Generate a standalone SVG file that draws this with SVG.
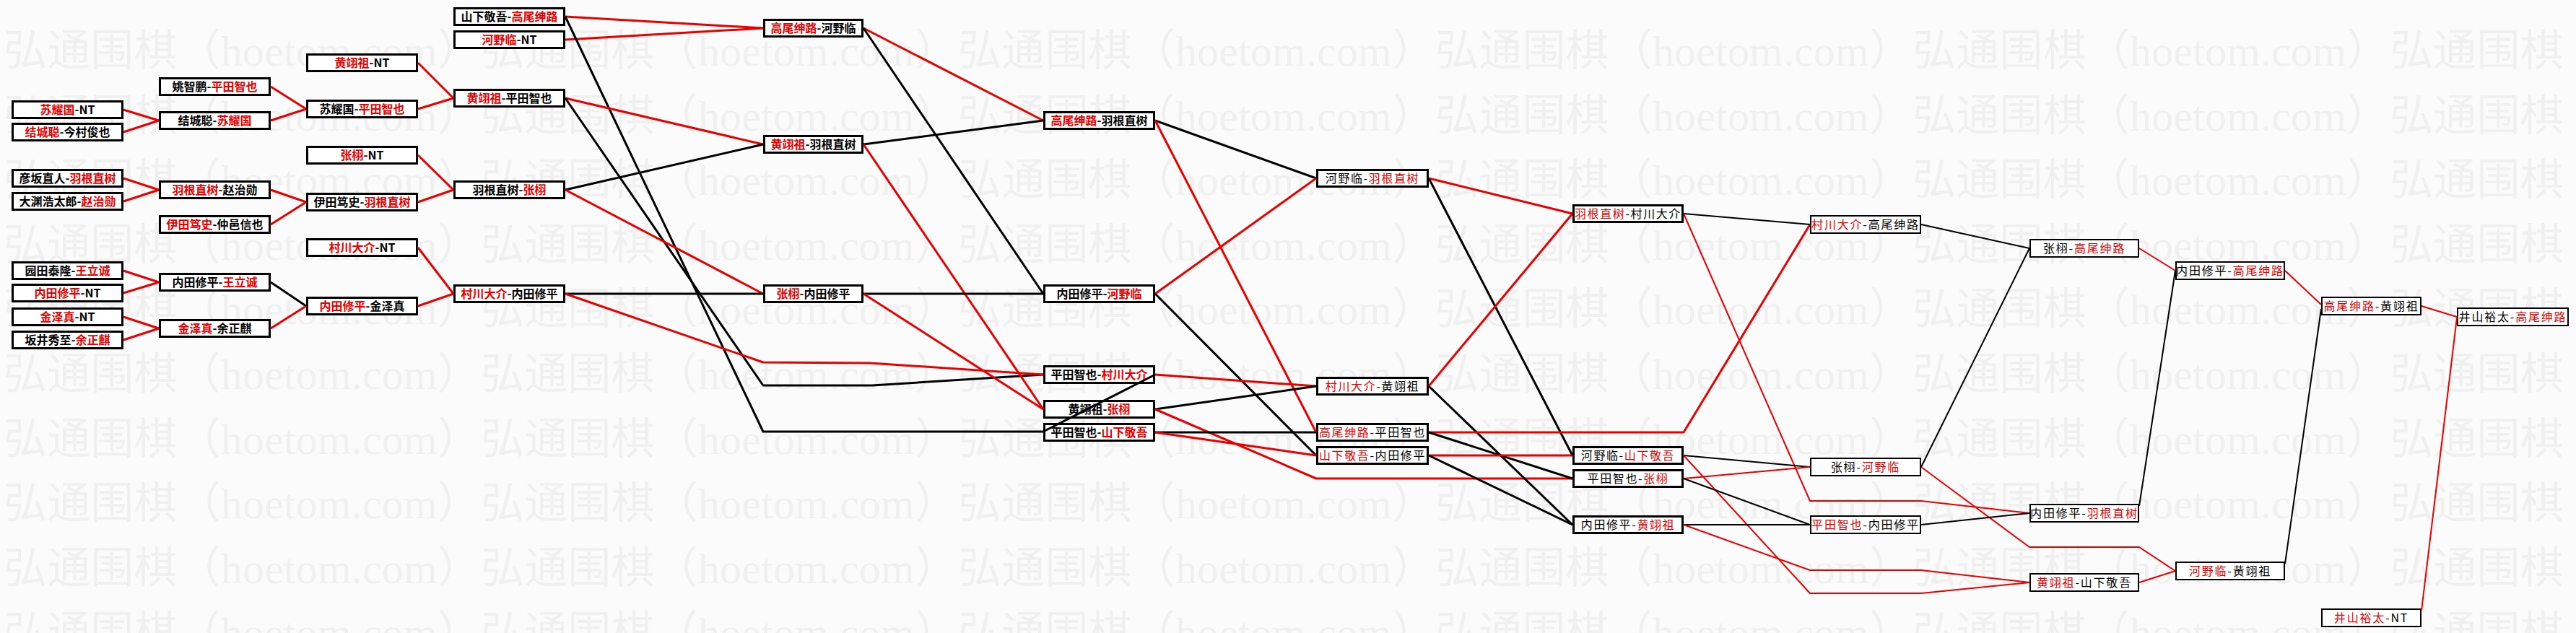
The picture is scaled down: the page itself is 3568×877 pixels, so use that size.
<svg xmlns="http://www.w3.org/2000/svg" xmlns:xlink="http://www.w3.org/1999/xlink" width="3568" height="877" viewBox="0 0 3568 877">
<style>
.bg{fill:#fbfbfb}
.wm{font-family:"Liberation Serif","Noto Sans CJK SC",serif;font-size:60px;fill:#f0f0f0}
.n rect{fill:#fff;stroke:#000;stroke-width:3}
.n text{font-family:"Noto Sans CJK SC",sans-serif;font-size:16px;text-anchor:middle;fill:#000}
.b text{font-weight:bold}
.m text{font-weight:normal;letter-spacing:1.6px}
.t rect{stroke-width:2}
.t text{font-weight:normal;letter-spacing:1.8px}
.r{fill:#e60000}
#connectors polyline{fill:none;stroke-width:3;stroke-linejoin:round}
#connectors .thin polyline{stroke-width:2}
.cr{stroke:#e60000}
.ck{stroke:#000}
</style>
<defs>
<text id="wmrow" class="wm" x="5" y="0" textLength="3966" lengthAdjust="spacing">弘通围棋（hoetom.com）弘通围棋（hoetom.com）弘通围棋（hoetom.com）弘通围棋（hoetom.com）弘通围棋（hoetom.com）弘通围棋（hoetom.com）</text>
</defs>
<rect class="bg" x="0" y="0" width="3568" height="877"/>
<g id="watermark">
<use xlink:href="#wmrow" y="91"/>
<use xlink:href="#wmrow" y="181"/>
<use xlink:href="#wmrow" y="270"/>
<use xlink:href="#wmrow" y="360"/>
<use xlink:href="#wmrow" y="449"/>
<use xlink:href="#wmrow" y="539"/>
<use xlink:href="#wmrow" y="629"/>
<use xlink:href="#wmrow" y="718"/>
<use xlink:href="#wmrow" y="808"/>
<use xlink:href="#wmrow" y="897"/>
</g>

<!-- column 0 -->
<g id="n0_1" class="n b"><rect x="17.5" y="140.5" width="152" height="23"/><text x="93.5" y="158"><tspan class="r">苏耀国</tspan>-NT</text></g>
<g id="n0_2" class="n b"><rect x="17.5" y="171.5" width="152" height="23"/><text x="93.5" y="189"><tspan class="r">结城聪</tspan>-今村俊也</text></g>
<g id="n0_3" class="n b"><rect x="17.5" y="235.5" width="152" height="23"/><text x="93.5" y="253">彦坂直人-<tspan class="r">羽根直树</tspan></text></g>
<g id="n0_4" class="n b"><rect x="17.5" y="267.5" width="152" height="23"/><text x="93.5" y="285">大渊浩太郎-<tspan class="r">赵治勋</tspan></text></g>
<g id="n0_5" class="n b"><rect x="17.5" y="363.5" width="152" height="23"/><text x="93.5" y="381">园田泰隆-<tspan class="r">王立诚</tspan></text></g>
<g id="n0_6" class="n b"><rect x="17.5" y="394.5" width="152" height="23"/><text x="93.5" y="412"><tspan class="r">内田修平</tspan>-NT</text></g>
<g id="n0_7" class="n b"><rect x="17.5" y="427.5" width="152" height="23"/><text x="93.5" y="445"><tspan class="r">金泽真</tspan>-NT</text></g>
<g id="n0_8" class="n b"><rect x="17.5" y="459.5" width="152" height="23"/><text x="93.5" y="477">坂井秀至-<tspan class="r">余正麒</tspan></text></g>

<!-- column 1 -->
<g id="n1_1" class="n b"><rect x="221.5" y="108.5" width="152" height="23"/><text x="297.5" y="126">姚智鹏-<tspan class="r">平田智也</tspan></text></g>
<g id="n1_2" class="n b"><rect x="221.5" y="155.5" width="152" height="23"/><text x="297.5" y="173">结城聪-<tspan class="r">苏耀国</tspan></text></g>
<g id="n1_3" class="n b"><rect x="221.5" y="251.5" width="152" height="23"/><text x="297.5" y="269"><tspan class="r">羽根直树</tspan>-赵治勋</text></g>
<g id="n1_4" class="n b"><rect x="221.5" y="299.5" width="152" height="23"/><text x="297.5" y="317"><tspan class="r">伊田笃史</tspan>-仲邑信也</text></g>
<g id="n1_5" class="n b"><rect x="221.5" y="379.5" width="152" height="23"/><text x="297.5" y="397">内田修平-<tspan class="r">王立诚</tspan></text></g>
<g id="n1_6" class="n b"><rect x="221.5" y="443.5" width="152" height="23"/><text x="297.5" y="461"><tspan class="r">金泽真</tspan>-余正麒</text></g>

<!-- column 2 -->
<g id="n2_1" class="n b"><rect x="425.5" y="75.5" width="152" height="23"/><text x="501.5" y="93"><tspan class="r">黄翊祖</tspan>-NT</text></g>
<g id="n2_2" class="n b"><rect x="425.5" y="139.5" width="152" height="23"/><text x="501.5" y="157">苏耀国-<tspan class="r">平田智也</tspan></text></g>
<g id="n2_3" class="n b"><rect x="425.5" y="203.5" width="152" height="23"/><text x="501.5" y="221"><tspan class="r">张栩</tspan>-NT</text></g>
<g id="n2_4" class="n b"><rect x="425.5" y="268.5" width="152" height="23"/><text x="501.5" y="286">伊田笃史-<tspan class="r">羽根直树</tspan></text></g>
<g id="n2_5" class="n b"><rect x="425.5" y="331.5" width="152" height="23"/><text x="501.5" y="349"><tspan class="r">村川大介</tspan>-NT</text></g>
<g id="n2_6" class="n b"><rect x="425.5" y="412.5" width="152" height="23"/><text x="501.5" y="430"><tspan class="r">内田修平</tspan>-金泽真</text></g>

<!-- column 3 -->
<g id="n3_1" class="n b"><rect x="629.5" y="11.5" width="152" height="23"/><text x="705.5" y="29">山下敬吾-<tspan class="r">高尾绅路</tspan></text></g>
<g id="n3_2" class="n b"><rect x="629.5" y="43.5" width="152" height="23"/><text x="705.5" y="61"><tspan class="r">河野临</tspan>-NT</text></g>
<g id="n3_3" class="n b"><rect x="629.5" y="124.5" width="152" height="23"/><text x="705.5" y="142"><tspan class="r">黄翊祖</tspan>-平田智也</text></g>
<g id="n3_4" class="n b"><rect x="629.5" y="251.5" width="152" height="23"/><text x="705.5" y="269">羽根直树-<tspan class="r">张栩</tspan></text></g>
<g id="n3_5" class="n b"><rect x="629.5" y="395.5" width="152" height="23"/><text x="705.5" y="413"><tspan class="r">村川大介</tspan>-内田修平</text></g>

<!-- column 4 -->
<g id="n4_1" class="n b"><rect x="1058.5" y="27.5" width="136" height="23"/><text x="1126.5" y="45"><tspan class="r">高尾绅路</tspan>-河野临</text></g>
<g id="n4_2" class="n b"><rect x="1058.5" y="188.5" width="136" height="23"/><text x="1126.5" y="206"><tspan class="r">黄翊祖</tspan>-羽根直树</text></g>
<g id="n4_3" class="n b"><rect x="1058.5" y="395.5" width="136" height="23"/><text x="1126.5" y="413"><tspan class="r">张栩</tspan>-内田修平</text></g>

<!-- column 5 -->
<g id="n5_1" class="n b"><rect x="1446.5" y="155.5" width="152" height="23"/><text x="1522.5" y="173"><tspan class="r">高尾绅路</tspan>-羽根直树</text></g>
<g id="n5_2" class="n b"><rect x="1446.5" y="395.5" width="152" height="23"/><text x="1522.5" y="413">内田修平-<tspan class="r">河野临</tspan></text></g>
<g id="n5_3" class="n b"><rect x="1446.5" y="507.5" width="152" height="23"/><text x="1522.5" y="525">平田智也-<tspan class="r">村川大介</tspan></text></g>
<g id="n5_4" class="n b"><rect x="1446.5" y="555.5" width="152" height="23"/><text x="1522.5" y="573">黄翊祖-<tspan class="r">张栩</tspan></text></g>
<g id="n5_5" class="n b"><rect x="1446.5" y="587.5" width="152" height="23"/><text x="1522.5" y="605">平田智也-<tspan class="r">山下敬吾</tspan></text></g>

<!-- column 6 -->
<g id="n6_1" class="n m"><rect x="1824.5" y="235.5" width="153" height="23"/><text x="1901" y="253">河野临-<tspan class="r">羽根直树</tspan></text></g>
<g id="n6_2" class="n m"><rect x="1824.5" y="523.5" width="153" height="23"/><text x="1901" y="541"><tspan class="r">村川大介</tspan>-黄翊祖</text></g>
<g id="n6_3" class="n m"><rect x="1824.5" y="587.5" width="153" height="23"/><text x="1901" y="605"><tspan class="r">高尾绅路</tspan>-平田智也</text></g>
<g id="n6_4" class="n m"><rect x="1824.5" y="619.5" width="153" height="23"/><text x="1901" y="637"><tspan class="r">山下敬吾</tspan>-内田修平</text></g>

<!-- column 7 -->
<g id="n7_1" class="n m"><rect x="2179.5" y="284.5" width="151" height="23"/><text x="2255" y="302"><tspan class="r">羽根直树</tspan>-村川大介</text></g>
<g id="n7_2" class="n m"><rect x="2179.5" y="619.5" width="151" height="23"/><text x="2255" y="637">河野临-<tspan class="r">山下敬吾</tspan></text></g>
<g id="n7_3" class="n m"><rect x="2179.5" y="651.5" width="151" height="23"/><text x="2255" y="669">平田智也-<tspan class="r">张栩</tspan></text></g>
<g id="n7_4" class="n m"><rect x="2179.5" y="715.5" width="151" height="23"/><text x="2255" y="733">内田修平-<tspan class="r">黄翊祖</tspan></text></g>

<!-- column 8 -->
<g id="n8_1" class="n t"><rect x="2508" y="299" width="152" height="24"/><text x="2584" y="317"><tspan class="r">村川大介</tspan>-高尾绅路</text></g>
<g id="n8_2" class="n t"><rect x="2508" y="635" width="152" height="24"/><text x="2584" y="653">张栩-<tspan class="r">河野临</tspan></text></g>
<g id="n8_3" class="n t"><rect x="2508" y="715" width="152" height="24"/><text x="2584" y="733"><tspan class="r">平田智也</tspan>-内田修平</text></g>

<!-- column 9 -->
<g id="n9_1" class="n t"><rect x="2812" y="332" width="150" height="24"/><text x="2887" y="350">张栩-<tspan class="r">高尾绅路</tspan></text></g>
<g id="n9_2" class="n t"><rect x="2812" y="699" width="150" height="24"/><text x="2887" y="717">内田修平-<tspan class="r">羽根直树</tspan></text></g>
<g id="n9_3" class="n t"><rect x="2812" y="795" width="150" height="24"/><text x="2887" y="813"><tspan class="r">黄翊祖</tspan>-山下敬吾</text></g>

<!-- column 10 -->
<g id="n10_1" class="n t"><rect x="3014" y="363" width="150" height="24"/><text x="3089" y="381">内田修平-<tspan class="r">高尾绅路</tspan></text></g>
<g id="n10_2" class="n t"><rect x="3014" y="779" width="150" height="24"/><text x="3089" y="797"><tspan class="r">河野临</tspan>-黄翊祖</text></g>

<!-- column 11 -->
<g id="n11_1" class="n t"><rect x="3216" y="412" width="137" height="24"/><text x="3284.5" y="430"><tspan class="r">高尾绅路</tspan>-黄翊祖</text></g>
<g id="n11_2" class="n t"><rect x="3216" y="844" width="137" height="24"/><text x="3284.5" y="862"><tspan class="r">井山裕太</tspan>-NT</text></g>

<!-- column 12 -->
<g id="n12_1" class="n t"><rect x="3404" y="427" width="153" height="24"/><text x="3480.5" y="445">井山裕太-<tspan class="r">高尾绅路</tspan></text></g>

<g id="connectors">
<g class="thick">
<!-- col0 -> col1 -->
<polyline class="cr" points="171,152 220,167"/>
<polyline class="cr" points="171,183 220,167"/>
<polyline class="cr" points="171,247 220,263"/>
<polyline class="cr" points="171,279 220,263"/>
<polyline class="cr" points="171,375 220,391"/>
<polyline class="cr" points="171,406 220,391"/>
<polyline class="cr" points="171,439 220,455"/>
<polyline class="cr" points="171,471 220,455"/>
<!-- col1 -> col2 -->
<polyline class="cr" points="375,120 424,151"/>
<polyline class="cr" points="375,167 424,151"/>
<polyline class="cr" points="375,263 424,280"/>
<polyline class="cr" points="375,311 424,280"/>
<polyline class="ck" points="375,391 424,424"/>
<polyline class="cr" points="375,455 424,424"/>
<!-- col2 -> col3 -->
<polyline class="cr" points="579,87 628,136"/>
<polyline class="cr" points="579,151 628,136"/>
<polyline class="cr" points="579,215 628,263"/>
<polyline class="cr" points="579,280 628,263"/>
<polyline class="cr" points="579,343 628,407"/>
<polyline class="cr" points="579,424 628,407"/>
<!-- col3 -> col4 / col5 -->
<polyline class="cr" points="783,23 1057,39"/>
<polyline class="cr" points="783,55 1057,39"/>
<polyline class="ck" points="783,23 1057,598 1445,598 1600,519"/>
<polyline class="cr" points="783,136 1057,200"/>
<polyline class="ck" points="783,136 1057,534 1208,534 1445,519"/>
<polyline class="ck" points="783,263 1057,200"/>
<polyline class="cr" points="783,263 1057,407"/>
<polyline class="ck" points="783,407 1057,407"/>
<polyline class="cr" points="783,407 1057,502 1205,503 1445,519"/>
<!-- col4 -> col5 -->
<polyline class="cr" points="1196,39 1445,167"/>
<polyline class="ck" points="1196,39 1445,407"/>
<polyline class="ck" points="1196,200 1445,167"/>
<polyline class="cr" points="1196,200 1445,567"/>
<polyline class="ck" points="1196,407 1445,407"/>
<polyline class="cr" points="1196,407 1445,567"/>
<!-- col5 -> col6 -->
<polyline class="ck" points="1600,167 1823,247"/>
<polyline class="cr" points="1600,167 1823,599"/>
<polyline class="cr" points="1600,407 1823,247"/>
<polyline class="ck" points="1600,407 1823,631"/>
<polyline class="cr" points="1600,519 1823,535"/>
<polyline class="ck" points="1600,567 1823,535"/>
<polyline class="cr" points="1600,567 1823,663 2178,663"/>
<polyline class="ck" points="1600,599 1823,599"/>
<polyline class="cr" points="1600,599 1823,631"/>
<!-- col6 -> col7 -->
<polyline class="cr" points="1979,247 2178,296"/>
<polyline class="ck" points="1979,247 2178,631"/>
<polyline class="cr" points="1979,535 2178,296"/>
<polyline class="ck" points="1979,535 2178,727"/>
<polyline class="cr" points="1979,599 2332,599 2507,311"/>
<polyline class="ck" points="1979,599 2178,663"/>
<polyline class="cr" points="1979,631 2178,631"/>
<polyline class="ck" points="1979,631 2178,727"/>
</g>
<g class="thin">
<!-- col7 -> col8 -->
<polyline class="ck" points="2332,296 2507,311"/>
<polyline class="cr" points="2332,296 2507,694 2661,694 2811,711"/>
<polyline class="ck" points="2332,631 2507,647"/>
<polyline class="cr" points="2332,631 2507,822 2661,822 2811,807"/>
<polyline class="cr" points="2332,663 2507,647"/>
<polyline class="ck" points="2332,663 2507,727"/>
<polyline class="ck" points="2332,727 2507,727"/>
<polyline class="cr" points="2332,727 2507,790 2661,790 2811,807"/>
<!-- col8 -> col9 -->
<polyline class="ck" points="2661,311 2811,344"/>
<polyline class="ck" points="2661,647 2811,344"/>
<polyline class="cr" points="2661,647 2811,758 2963,758 3013,791"/>
<polyline class="ck" points="2661,727 2811,711"/>
<!-- col9 -> col10 -->
<polyline class="cr" points="2963,344 3013,375"/>
<polyline class="ck" points="2963,701 3013,375"/>
<polyline class="cr" points="2963,807 3013,791"/>
<!-- col10 -> col11 -->
<polyline class="cr" points="3165,375 3215,422"/>
<polyline class="ck" points="3165,781 3215,428"/>
<!-- col11 -> col12 -->
<polyline class="cr" points="3354,424 3403,439"/>
<polyline class="cr" points="3354,846 3403,440"/>
</g>
</g>
</svg>
